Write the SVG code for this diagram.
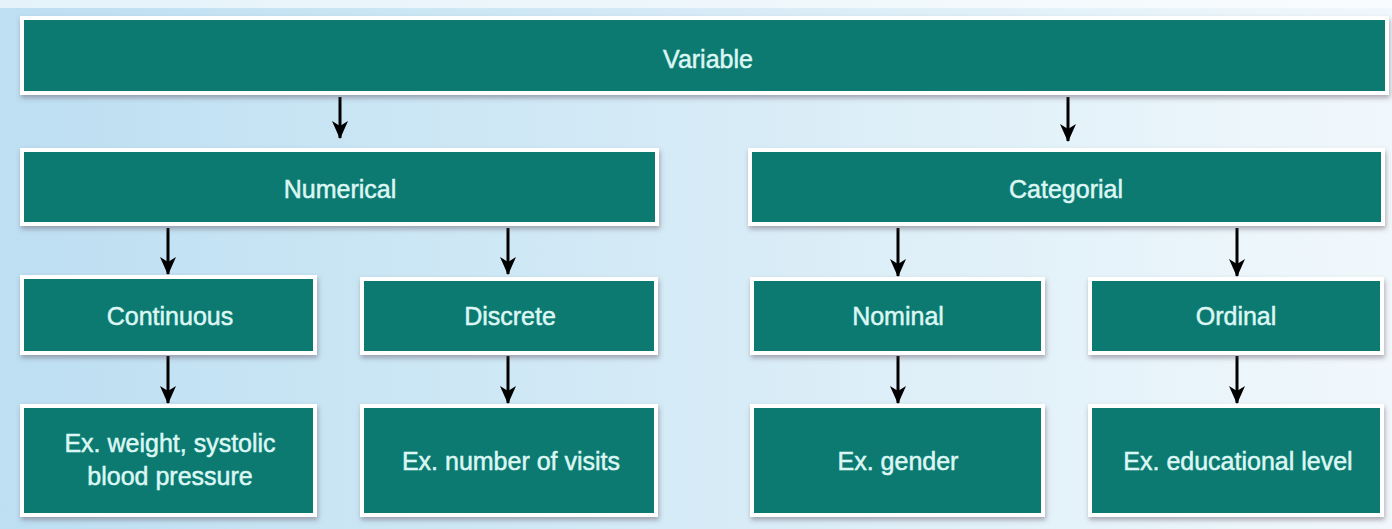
<svg xmlns="http://www.w3.org/2000/svg" width="1392" height="529" viewBox="0 0 1392 529">
<defs>
<linearGradient id="bg" x1="0" y1="0" x2="1" y2="0">
<stop offset="0" stop-color="#bddff2"/>
<stop offset="0.45" stop-color="#d3eaf6"/>
<stop offset="1" stop-color="#f1f8fc"/>
</linearGradient>
<filter id="sh" x="-5%" y="-10%" width="110%" height="130%">
<feDropShadow dx="1" dy="3" stdDeviation="2.5" flood-color="#5a4a5a" flood-opacity="0.45"/>
</filter>
<marker id="ah" viewBox="0 0 18 16" refX="17" refY="8" markerWidth="18" markerHeight="16" markerUnits="userSpaceOnUse" orient="auto">
<path d="M0,0 L5,8 L0,16 L18,8 Z" fill="#000"/>
</marker>
<style>
.box{fill:#0b7a72;stroke:#ffffff;stroke-width:4;filter:url(#sh)}
.lbl{font-family:"Liberation Sans",Arial,sans-serif;font-size:25px;fill:#dcf7f3;stroke:#dcf7f3;stroke-width:0.5;text-anchor:middle}
.arr{stroke:#000;stroke-width:3;fill:none;marker-end:url(#ah)}
</style>
</defs>
<rect x="0" y="0" width="1392" height="529" fill="url(#bg)"/>
<rect x="0" y="0" width="1392" height="8" fill="#ffffff" opacity="0.6"/>

<g id="connectors">
<path class="arr" d="M340,97 V138"/>
<path class="arr" d="M1068,97 V141"/>
<path class="arr" d="M168,228 V274"/>
<path class="arr" d="M508,228 V274"/>
<path class="arr" d="M898,228 V276"/>
<path class="arr" d="M1237,228 V276"/>
<path class="arr" d="M168,356 V403"/>
<path class="arr" d="M508,356 V403"/>
<path class="arr" d="M898,356 V403"/>
<path class="arr" d="M1237,356 V403"/>
</g>

<g id="variable">
<rect class="box" x="22" y="18" width="1365" height="75"/>
<text class="lbl" x="708" y="68">Variable</text>
</g>
<g id="numerical">
<rect class="box" x="22" y="150" width="635" height="74"/>
<text class="lbl" x="340" y="198">Numerical</text>
</g>
<g id="categorial">
<rect class="box" x="750" y="150" width="633" height="74"/>
<text class="lbl" x="1066" y="198">Categorial</text>
</g>
<g id="continuous">
<rect class="box" x="22" y="277" width="293" height="76"/>
<text class="lbl" x="170" y="325">Continuous</text>
</g>
<g id="discrete">
<rect class="box" x="362" y="279" width="294" height="74"/>
<text class="lbl" x="510" y="325">Discrete</text>
</g>
<g id="nominal">
<rect class="box" x="752" y="279" width="291" height="74"/>
<text class="lbl" x="898" y="325">Nominal</text>
</g>
<g id="ordinal">
<rect class="box" x="1090" y="279" width="292" height="74"/>
<text class="lbl" x="1236" y="325">Ordinal</text>
</g>
<g id="ex-continuous">
<rect class="box" x="22" y="406" width="293" height="109"/>
<text class="lbl" x="170" y="452">Ex. weight, systolic</text>
<text class="lbl" x="170" y="485">blood pressure</text>
</g>
<g id="ex-discrete">
<rect class="box" x="362" y="406" width="294" height="109"/>
<text class="lbl" x="511" y="470">Ex. number of visits</text>
</g>
<g id="ex-nominal">
<rect class="box" x="752" y="406" width="291" height="109"/>
<text class="lbl" x="898" y="470">Ex. gender</text>
</g>
<g id="ex-ordinal">
<rect class="box" x="1090" y="406" width="292" height="109"/>
<text class="lbl" x="1238" y="470">Ex. educational level</text>
</g>
</svg>
